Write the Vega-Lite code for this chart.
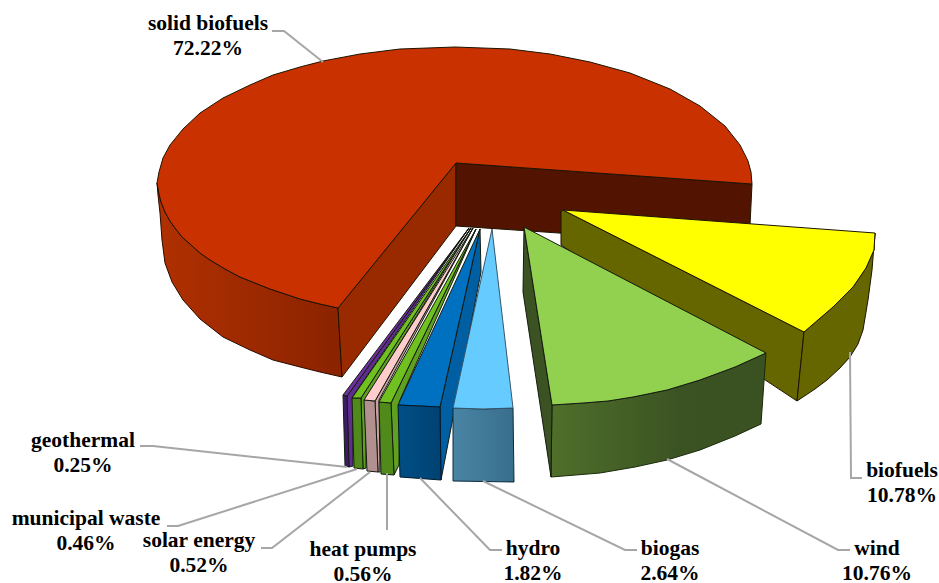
{"$schema":"https://vega.github.io/schema/vega-lite/v6.json","width":939,"height":583,"autosize":{"type":"none"},"padding":0,"background":"white","view":{"stroke":null},
"resolve":{"scale":{"fill":"independent"}},
"datasets":{"faces":[
{"face":"bigOuter","i":0,"x":157,"y":183},{"face":"bigOuter","i":1,"x":159,"y":194},{"face":"bigOuter","i":2,"x":161,"y":202},{"face":"bigOuter","i":3,"x":165,"y":212},{"face":"bigOuter","i":4,"x":170,"y":221},{"face":"bigOuter","i":5,"x":175,"y":228},{"face":"bigOuter","i":6,"x":182,"y":237},{"face":"bigOuter","i":7,"x":190,"y":244},{"face":"bigOuter","i":8,"x":200,"y":253},{"face":"bigOuter","i":9,"x":210,"y":260},{"face":"bigOuter","i":10,"x":225,"y":269},{"face":"bigOuter","i":11,"x":240,"y":277},{"face":"bigOuter","i":12,"x":255,"y":283},{"face":"bigOuter","i":13,"x":270,"y":289},{"face":"bigOuter","i":14,"x":285,"y":294},{"face":"bigOuter","i":15,"x":300,"y":299},{"face":"bigOuter","i":16,"x":320,"y":304},{"face":"bigOuter","i":17,"x":338,"y":308},{"face":"bigOuter","i":18,"x":342,"y":377},{"face":"bigOuter","i":19,"x":320,"y":372},{"face":"bigOuter","i":20,"x":300,"y":367},{"face":"bigOuter","i":21,"x":273,"y":360},{"face":"bigOuter","i":22,"x":250,"y":350},{"face":"bigOuter","i":23,"x":223,"y":337},{"face":"bigOuter","i":24,"x":200,"y":319},{"face":"bigOuter","i":25,"x":183,"y":300},{"face":"bigOuter","i":26,"x":172,"y":282},{"face":"bigOuter","i":27,"x":165,"y":263},{"face":"bigOuter","i":28,"x":162,"y":240},{"face":"bigOuter","i":29,"x":160,"y":213},{"face":"bigOuter","i":30,"x":158,"y":195},{"face":"bigOuter","i":31,"x":157,"y":183},
{"face":"bigInnerL","i":0,"x":456,"y":163},{"face":"bigInnerL","i":1,"x":338,"y":308},{"face":"bigInnerL","i":2,"x":342,"y":377},{"face":"bigInnerL","i":3,"x":456,"y":226},{"face":"bigInnerL","i":4,"x":456,"y":163},
{"face":"bigInnerR","i":0,"x":456,"y":163},{"face":"bigInnerR","i":1,"x":752,"y":184},{"face":"bigInnerR","i":2,"x":749,"y":246},{"face":"bigInnerR","i":3,"x":456,"y":226},{"face":"bigInnerR","i":4,"x":456,"y":163},
{"face":"bigTop","i":0,"x":456,"y":163},{"face":"bigTop","i":1,"x":338,"y":308},{"face":"bigTop","i":2,"x":320,"y":304},{"face":"bigTop","i":3,"x":300,"y":299},{"face":"bigTop","i":4,"x":285,"y":294},{"face":"bigTop","i":5,"x":270,"y":289},{"face":"bigTop","i":6,"x":255,"y":283},{"face":"bigTop","i":7,"x":240,"y":277},{"face":"bigTop","i":8,"x":225,"y":269},{"face":"bigTop","i":9,"x":210,"y":260},{"face":"bigTop","i":10,"x":200,"y":253},{"face":"bigTop","i":11,"x":190,"y":244},{"face":"bigTop","i":12,"x":182,"y":237},{"face":"bigTop","i":13,"x":175,"y":228},{"face":"bigTop","i":14,"x":170,"y":221},{"face":"bigTop","i":15,"x":165,"y":212},{"face":"bigTop","i":16,"x":161,"y":202},{"face":"bigTop","i":17,"x":159,"y":194},{"face":"bigTop","i":18,"x":157,"y":183},{"face":"bigTop","i":19,"x":159,"y":172},{"face":"bigTop","i":20,"x":163,"y":158},{"face":"bigTop","i":21,"x":170,"y":145},{"face":"bigTop","i":22,"x":183,"y":129},{"face":"bigTop","i":23,"x":200,"y":113},{"face":"bigTop","i":24,"x":223,"y":98},{"face":"bigTop","i":25,"x":250,"y":85},{"face":"bigTop","i":26,"x":273,"y":75},{"face":"bigTop","i":27,"x":300,"y":67},{"face":"bigTop","i":28,"x":323,"y":61},{"face":"bigTop","i":29,"x":360,"y":54},{"face":"bigTop","i":30,"x":400,"y":49},{"face":"bigTop","i":31,"x":455,"y":47},{"face":"bigTop","i":32,"x":510,"y":49},{"face":"bigTop","i":33,"x":550,"y":54},{"face":"bigTop","i":34,"x":590,"y":62},{"face":"bigTop","i":35,"x":630,"y":73},{"face":"bigTop","i":36,"x":670,"y":89},{"face":"bigTop","i":37,"x":700,"y":106},{"face":"bigTop","i":38,"x":725,"y":126},{"face":"bigTop","i":39,"x":740,"y":145},{"face":"bigTop","i":40,"x":748,"y":161},{"face":"bigTop","i":41,"x":751,"y":172},{"face":"bigTop","i":42,"x":752,"y":184},{"face":"bigTop","i":43,"x":456,"y":163},
{"face":"yellowInner","i":0,"x":563,"y":210},{"face":"yellowInner","i":1,"x":804,"y":332},{"face":"yellowInner","i":2,"x":797,"y":401},{"face":"yellowInner","i":3,"x":561,"y":245},{"face":"yellowInner","i":4,"x":561,"y":211},{"face":"yellowInner","i":5,"x":563,"y":210},
{"face":"yellowOuter","i":0,"x":875,"y":233},{"face":"yellowOuter","i":1,"x":874,"y":250},{"face":"yellowOuter","i":2,"x":866,"y":268},{"face":"yellowOuter","i":3,"x":853,"y":287},{"face":"yellowOuter","i":4,"x":833,"y":307},{"face":"yellowOuter","i":5,"x":804,"y":332},{"face":"yellowOuter","i":6,"x":797,"y":401},{"face":"yellowOuter","i":7,"x":815,"y":389},{"face":"yellowOuter","i":8,"x":827,"y":380},{"face":"yellowOuter","i":9,"x":840,"y":368},{"face":"yellowOuter","i":10,"x":850,"y":357},{"face":"yellowOuter","i":11,"x":858,"y":344},{"face":"yellowOuter","i":12,"x":863,"y":330},{"face":"yellowOuter","i":13,"x":868,"y":300},{"face":"yellowOuter","i":14,"x":872,"y":270},{"face":"yellowOuter","i":15,"x":875,"y":233},
{"face":"yellowTop","i":0,"x":563,"y":210},{"face":"yellowTop","i":1,"x":875,"y":233},{"face":"yellowTop","i":2,"x":874,"y":250},{"face":"yellowTop","i":3,"x":866,"y":268},{"face":"yellowTop","i":4,"x":853,"y":287},{"face":"yellowTop","i":5,"x":833,"y":307},{"face":"yellowTop","i":6,"x":804,"y":332},{"face":"yellowTop","i":7,"x":563,"y":210},
{"face":"windFront","i":0,"x":552,"y":405},{"face":"windFront","i":1,"x":583,"y":403},{"face":"windFront","i":2,"x":608,"y":401},{"face":"windFront","i":3,"x":633,"y":397},{"face":"windFront","i":4,"x":667,"y":390},{"face":"windFront","i":5,"x":700,"y":380},{"face":"windFront","i":6,"x":735,"y":367},{"face":"windFront","i":7,"x":766,"y":353},{"face":"windFront","i":8,"x":761,"y":424},{"face":"windFront","i":9,"x":735,"y":436},{"face":"windFront","i":10,"x":700,"y":450},{"face":"windFront","i":11,"x":667,"y":460},{"face":"windFront","i":12,"x":635,"y":467},{"face":"windFront","i":13,"x":600,"y":473},{"face":"windFront","i":14,"x":551,"y":477},{"face":"windFront","i":15,"x":552,"y":405},
{"face":"windSide","i":0,"x":524,"y":227},{"face":"windSide","i":1,"x":552,"y":405},{"face":"windSide","i":2,"x":551,"y":477},{"face":"windSide","i":3,"x":523,"y":292},{"face":"windSide","i":4,"x":524,"y":227},
{"face":"windTop","i":0,"x":524,"y":227},{"face":"windTop","i":1,"x":766,"y":353},{"face":"windTop","i":2,"x":735,"y":367},{"face":"windTop","i":3,"x":700,"y":380},{"face":"windTop","i":4,"x":667,"y":390},{"face":"windTop","i":5,"x":633,"y":397},{"face":"windTop","i":6,"x":608,"y":401},{"face":"windTop","i":7,"x":583,"y":403},{"face":"windTop","i":8,"x":552,"y":405},{"face":"windTop","i":9,"x":524,"y":227},
{"face":"geoSide","i":0,"x":469,"y":228},{"face":"geoSide","i":1,"x":347,"y":396},{"face":"geoSide","i":2,"x":349,"y":467},{"face":"geoSide","i":3,"x":353,"y":466},{"face":"geoSide","i":4,"x":353,"y":396},{"face":"geoSide","i":5,"x":469,"y":228},
{"face":"geoFront","i":0,"x":343,"y":395},{"face":"geoFront","i":1,"x":347,"y":396},{"face":"geoFront","i":2,"x":349,"y":467},{"face":"geoFront","i":3,"x":345,"y":466},{"face":"geoFront","i":4,"x":343,"y":395},
{"face":"geoTop","i":0,"x":469,"y":228},{"face":"geoTop","i":1,"x":343,"y":395},{"face":"geoTop","i":2,"x":347,"y":396},{"face":"geoTop","i":3,"x":469,"y":228},
{"face":"muniSide","i":0,"x":471,"y":228},{"face":"muniSide","i":1,"x":361,"y":398},{"face":"muniSide","i":2,"x":363,"y":469},{"face":"muniSide","i":3,"x":366,"y":468},{"face":"muniSide","i":4,"x":366,"y":398},{"face":"muniSide","i":5,"x":471,"y":228},
{"face":"muniFront","i":0,"x":352,"y":398},{"face":"muniFront","i":1,"x":361,"y":398},{"face":"muniFront","i":2,"x":363,"y":469},{"face":"muniFront","i":3,"x":354,"y":468},{"face":"muniFront","i":4,"x":352,"y":398},
{"face":"muniTop","i":0,"x":471,"y":228},{"face":"muniTop","i":1,"x":352,"y":398},{"face":"muniTop","i":2,"x":361,"y":398},{"face":"muniTop","i":3,"x":471,"y":228},
{"face":"solarSide","i":0,"x":473,"y":228},{"face":"solarSide","i":1,"x":375,"y":401},{"face":"solarSide","i":2,"x":378,"y":472},{"face":"solarSide","i":3,"x":380,"y":472},{"face":"solarSide","i":4,"x":379,"y":400},{"face":"solarSide","i":5,"x":473,"y":228},
{"face":"solarFront","i":0,"x":364,"y":400},{"face":"solarFront","i":1,"x":375,"y":401},{"face":"solarFront","i":2,"x":378,"y":472},{"face":"solarFront","i":3,"x":367,"y":471},{"face":"solarFront","i":4,"x":364,"y":400},
{"face":"solarTop","i":0,"x":473,"y":228},{"face":"solarTop","i":1,"x":364,"y":400},{"face":"solarTop","i":2,"x":375,"y":401},{"face":"solarTop","i":3,"x":473,"y":228},
{"face":"heatSide","i":0,"x":476,"y":229},{"face":"heatSide","i":1,"x":391,"y":403},{"face":"heatSide","i":2,"x":394,"y":475},{"face":"heatSide","i":3,"x":399,"y":465},{"face":"heatSide","i":4,"x":400,"y":400},{"face":"heatSide","i":5,"x":476,"y":229},
{"face":"heatFront","i":0,"x":379,"y":402},{"face":"heatFront","i":1,"x":391,"y":403},{"face":"heatFront","i":2,"x":394,"y":475},{"face":"heatFront","i":3,"x":381,"y":474},{"face":"heatFront","i":4,"x":379,"y":402},
{"face":"heatTop","i":0,"x":476,"y":229},{"face":"heatTop","i":1,"x":379,"y":402},{"face":"heatTop","i":2,"x":391,"y":403},{"face":"heatTop","i":3,"x":476,"y":229},
{"face":"hydroSide","i":0,"x":480,"y":229},{"face":"hydroSide","i":1,"x":440,"y":407},{"face":"hydroSide","i":2,"x":441,"y":480},{"face":"hydroSide","i":3,"x":481,"y":272},{"face":"hydroSide","i":4,"x":480,"y":229},
{"face":"hydroTop","i":0,"x":480,"y":229},{"face":"hydroTop","i":1,"x":398,"y":405},{"face":"hydroTop","i":2,"x":440,"y":407},{"face":"hydroTop","i":3,"x":480,"y":229},
{"face":"hydroFront","i":0,"x":398,"y":405},{"face":"hydroFront","i":1,"x":440,"y":407},{"face":"hydroFront","i":2,"x":441,"y":480},{"face":"hydroFront","i":3,"x":400,"y":477},{"face":"hydroFront","i":4,"x":398,"y":405},
{"face":"biogasFront","i":0,"x":453,"y":408},{"face":"biogasFront","i":1,"x":483,"y":409},{"face":"biogasFront","i":2,"x":513,"y":408},{"face":"biogasFront","i":3,"x":514,"y":482},{"face":"biogasFront","i":4,"x":453,"y":481},{"face":"biogasFront","i":5,"x":453,"y":408},
{"face":"biogasTop","i":0,"x":492,"y":229},{"face":"biogasTop","i":1,"x":453,"y":408},{"face":"biogasTop","i":2,"x":483,"y":409},{"face":"biogasTop","i":3,"x":513,"y":408},{"face":"biogasTop","i":4,"x":492,"y":229}
],
"leaders":[
{"name":"solid biofuels","i":0,"x":272,"y":31},{"name":"solid biofuels","i":1,"x":284,"y":31},{"name":"solid biofuels","i":2,"x":323,"y":62},
{"name":"biofuels","i":0,"x":850,"y":352},{"name":"biofuels","i":1,"x":851,"y":478},{"name":"biofuels","i":2,"x":862,"y":478},
{"name":"wind","i":0,"x":667,"y":459},{"name":"wind","i":1,"x":838,"y":550},{"name":"wind","i":2,"x":850,"y":550},
{"name":"biogas","i":0,"x":483,"y":481},{"name":"biogas","i":1,"x":625,"y":550},{"name":"biogas","i":2,"x":637,"y":550},
{"name":"hydro","i":0,"x":420,"y":478},{"name":"hydro","i":1,"x":490,"y":550},{"name":"hydro","i":2,"x":502,"y":550},
{"name":"heat pumps","i":0,"x":387,"y":473},{"name":"heat pumps","i":1,"x":387,"y":530},
{"name":"solar energy","i":0,"x":370,"y":472},{"name":"solar energy","i":1,"x":272,"y":548},{"name":"solar energy","i":2,"x":261,"y":548},
{"name":"municipal waste","i":0,"x":357,"y":469},{"name":"municipal waste","i":1,"x":178,"y":526},{"name":"municipal waste","i":2,"x":167,"y":526},
{"name":"geothermal","i":0,"x":347,"y":467},{"name":"geothermal","i":1,"x":153,"y":446},{"name":"geothermal","i":2,"x":140,"y":446}
],
"labels":[
{"name":"solid biofuels","share":0.7222,"x":208,"y":24},
{"name":"biofuels","share":0.1078,"x":902,"y":471},
{"name":"wind","share":0.1076,"x":877,"y":549},
{"name":"biogas","share":0.0264,"x":670,"y":549},
{"name":"hydro","share":0.0182,"x":533,"y":549},
{"name":"heat pumps","share":0.0056,"x":363,"y":550},
{"name":"solar energy","share":0.0052,"x":199,"y":541},
{"name":"municipal waste","share":0.0046,"x":86,"y":519},
{"name":"geothermal","share":0.0025,"x":83,"y":441}
]},
"encoding":{"x":{"field":"x","type":"quantitative","axis":null,"scale":{"domain":[0,939]}},"y":{"field":"y","type":"quantitative","axis":null,"scale":{"domain":[583,0]}}},
"layer":[
{"data":{"name":"faces"},"transform":[{"filter":"datum.face=='bigOuter'"}],"mark":{"type":"line","stroke":"#2a0a00","strokeWidth":1,"fill":{"gradient":"linear","x1":0,"x2":1,"y1":0,"y2":0,"stops":[{"offset":0,"color":"#B03000"},{"offset":1,"color":"#8A2300"}]}},"encoding":{"order":{"field":"i"}}},
{"data":{"name":"faces"},"transform":[{"filter":"indexof(['bigInnerL','bigInnerR','bigTop','yellowInner','yellowOuter','yellowTop'],datum.face)>=0"}],"mark":{"type":"line","stroke":"#1c1400","strokeWidth":1},"encoding":{"order":{"field":"i"},"fill":{"field":"face","legend":null,"scale":{"domain":["bigInnerL","bigInnerR","bigTop","yellowInner","yellowOuter","yellowTop"],"range":["#992A00","#521400","#C93200","#666600","#666600","#FFFF00"]}}}},
{"data":{"name":"faces"},"transform":[{"filter":"datum.face=='windFront'"}],"mark":{"type":"line","stroke":"#1a2a0a","strokeWidth":1,"fill":{"gradient":"linear","x1":0,"x2":1,"y1":0,"y2":0,"stops":[{"offset":0,"color":"#4F6F2A"},{"offset":0.6,"color":"#3B5323"},{"offset":1,"color":"#3A5122"}]}},"encoding":{"order":{"field":"i"}}},
{"data":{"name":"faces"},"transform":[{"filter":"indexof(['windSide','windTop','geoSide','geoFront','geoTop','muniSide','muniFront','muniTop','solarSide','solarFront','solarTop','heatSide','heatFront','heatTop','hydroSide','hydroTop'],datum.face)>=0"}],"mark":{"type":"line","stroke":"#141a10","strokeWidth":1},"encoding":{"order":{"field":"i"},"fill":{"field":"face","legend":null,"scale":{"domain":["windSide","windTop","geoSide","geoFront","geoTop","muniSide","muniFront","muniTop","solarSide","solarFront","solarTop","heatSide","heatFront","heatTop","hydroSide","hydroTop"],"range":["#3B5323","#92D050","#5F2D91","#3E1A66","#7030A0","#5FA020","#4F8A1B","#70C020","#C9A0A0","#B39090","#FFCCCC","#5FA020","#4F8A1B","#70C020","#005FA3","#0070C0"]}}}},
{"data":{"name":"faces"},"transform":[{"filter":"datum.face=='hydroFront'"}],"mark":{"type":"line","stroke":"#00182c","strokeWidth":1,"fill":{"gradient":"linear","x1":0,"x2":1,"y1":0,"y2":0,"stops":[{"offset":0,"color":"#004F85"},{"offset":1,"color":"#004272"}]}},"encoding":{"order":{"field":"i"}}},
{"data":{"name":"faces"},"transform":[{"filter":"datum.face=='biogasFront'"}],"mark":{"type":"line","stroke":"#0c2a3c","strokeWidth":1,"fill":{"gradient":"linear","x1":0,"x2":1,"y1":0,"y2":0,"stops":[{"offset":0,"color":"#4A84A4"},{"offset":1,"color":"#386E8C"}]}},"encoding":{"order":{"field":"i"}}},
{"data":{"name":"faces"},"transform":[{"filter":"datum.face=='biogasTop'"}],"mark":{"type":"line","stroke":"#37566a","strokeWidth":1,"fill":"#66CCFF"},"encoding":{"order":{"field":"i"}}},
{"data":{"name":"leaders"},"mark":{"type":"line","stroke":"#A6A6A6","strokeWidth":2},"encoding":{"detail":{"field":"name"},"order":{"field":"i"}}},
{"data":{"name":"labels"},"mark":{"type":"text","font":"Liberation Serif","fontWeight":"bold","fontSize":21.5,"fill":"#000","align":"center","baseline":"middle"},"encoding":{"text":{"field":"name"}}},
{"data":{"name":"labels"},"mark":{"type":"text","font":"Liberation Serif","fontWeight":"bold","fontSize":21.5,"fill":"#000","align":"center","baseline":"middle","dy":25},"encoding":{"text":{"field":"share","format":".2%"}}}
]}
